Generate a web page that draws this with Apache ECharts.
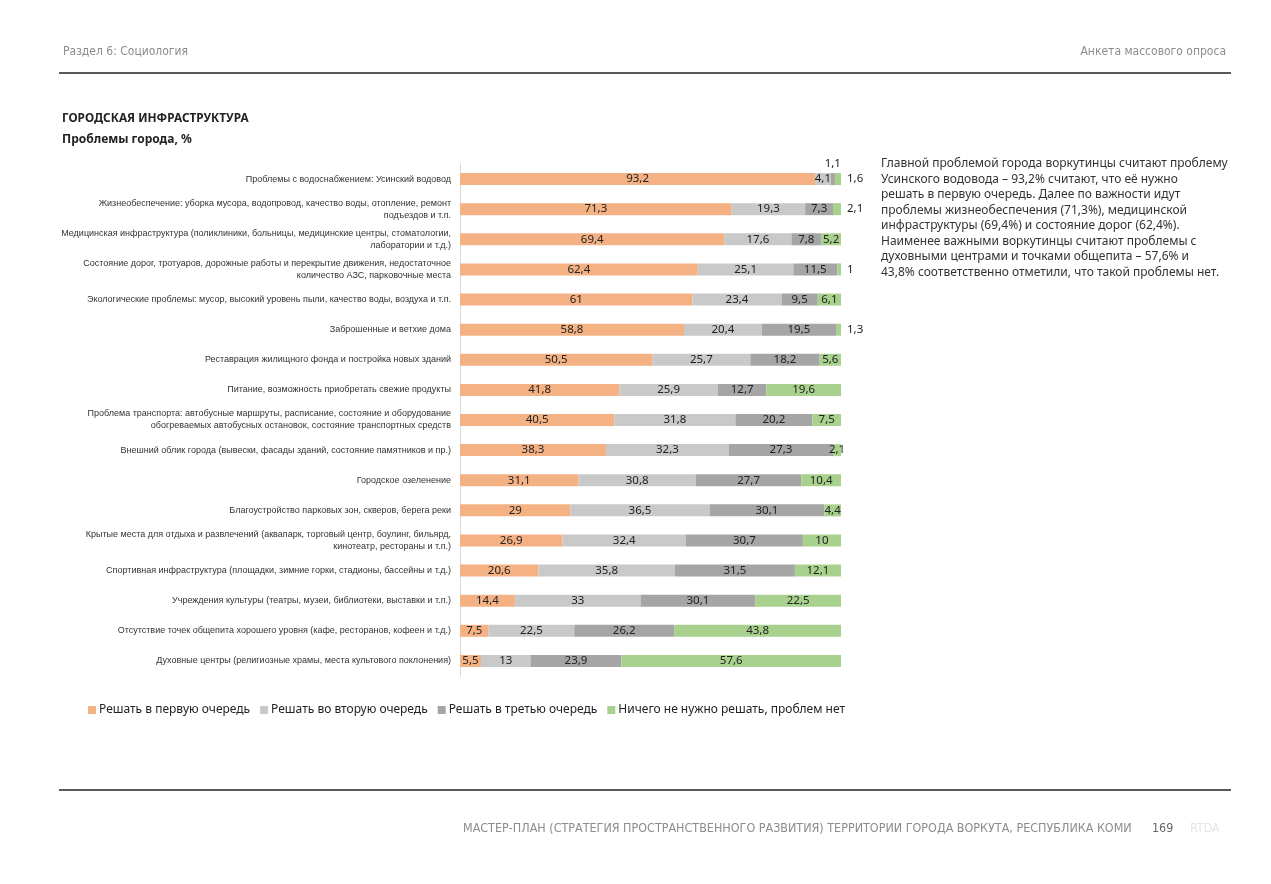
<!DOCTYPE html>
<html><head><meta charset="utf-8">
<script src="https://cdn.jsdelivr.net/npm/echarts@6/dist/echarts.min.js"></script>
<style>html,body{margin:0;padding:0;background:#fff}#c{width:1271px;height:884px}</style>
</head><body><div id="c"></div>
<script>
const categories = [
  "Проблемы с водоснабжением: Усинский водовод",
  "Жизнеобеспечение: уборка мусора, водопровод, качество воды, отопление, ремонт\nподъездов и т.п.",
  "Медицинская инфраструктура (поликлиники, больницы, медицинские центры, стоматологии,\nлаборатории и т.д.)",
  "Состояние дорог, тротуаров, дорожные работы и перекрытие движения, недостаточное\nколичество АЗС, парковочные места",
  "Экологические проблемы: мусор, высокий уровень пыли, качество воды, воздуха и т.п.",
  "Заброшенные и ветхие дома",
  "Реставрация жилищного фонда и постройка новых зданий",
  "Питание, возможность приобретать свежие продукты",
  "Проблема транспорта: автобусные маршруты, расписание, состояние и оборудование\nобогреваемых автобусных остановок, состояние транспортных средств",
  "Внешний облик города (вывески, фасады зданий, состояние памятников и пр.)",
  "Городское озеленение",
  "Благоустройство парковых зон, скверов, берега реки",
  "Крытые места для отдыха и развлечений (аквапарк, торговый центр, боулинг, бильярд,\nкинотеатр, рестораны и т.п.)",
  "Спортивная инфраструктура (площадки, зимние горки, стадионы, бассейны и т.д.)",
  "Учреждения культуры (театры, музеи, библиотеки, выставки и т.п.)",
  "Отсутствие точек общепита хорошего уровня (кафе, ресторанов, кофеен и т.д.)",
  "Духовные центры (религиозные храмы, места культового поклонения)"
];
const seriesNames = ["Решать в первую очередь","Решать во вторую очередь","Решать в третью очередь","Ничего не нужно решать, проблем нет"];
const first  = [93.2,71.3,69.4,62.4,61,58.8,50.5,41.8,40.5,38.3,31.1,29,26.9,20.6,14.4,7.5,5.5];
const second = [4.1,19.3,17.6,25.1,23.4,20.4,25.7,25.9,31.8,32.3,30.8,36.5,32.4,35.8,33,22.5,13];
const third  = [1.1,7.3,7.8,11.5,9.5,19.5,18.2,12.7,20.2,27.3,27.7,30.1,30.7,31.5,30.1,26.2,23.9];
const none   = [1.6,2.1,5.2,1,6.1,1.3,5.6,19.6,7.5,2.1,10.4,4.4,10,12.1,22.5,43.8,57.6];

const colors = ['#F4B183','#C9C9C9','#A5A5A5','#A9D18E'];
// label placement for tiny segments: [seriesIndex, rowIndex, position]
const labelOverrides = [[2,0,'top'],[3,0,'right'],[3,1,'right'],[3,3,'right'],[3,5,'right']];

function buildData(vals, si){
  return vals.map((v,i)=>{
    const o = labelOverrides.find(a=>a[0]===si && a[1]===i);
    if(!o) return v;
    return {value:v, label:{position:o[2], distance: o[2]==='right'?6:3}};
  });
}
const allVals=[first,second,third,none];
const chart = echarts.init(document.getElementById('c'));
const lblFont = {fontFamily:'Noto Sans', fontSize:11.5, color:'#222'};
chart.setOption({
  animation:false,
  color: colors,
  grid:{left:460, right:430, top:164, bottom:208, containLabel:false},
  xAxis:{type:'value', min:0, max:100, show:false},
  yAxis:{type:'category', data:categories, inverse:true,
    axisLine:{show:true, lineStyle:{color:'#D9D9D9', width:1}},
    axisTick:{show:false},
    axisLabel:{interval:0, margin:9, fontFamily:'Liberation Sans', fontSize:9, lineHeight:12, color:'#333', align:'right'}
  },
  legend:{left:83, top:699, itemWidth:8, itemHeight:8, itemGap:10, icon:'rect',
    textStyle:{fontFamily:'Noto Sans', fontSize:12, color:'#222', padding:[0,0,0,-2]},
    data:seriesNames},
  series: seriesNames.map((n,si)=>({
    name:n, type:'bar', stack:'s', barWidth:12,
    data: buildData(allVals[si], si),
    itemStyle:{color:colors[si]},
    label:{show:true, position:'inside', ...lblFont,
      formatter:p=>String(p.value).replace('.',',')}
  })),
  graphic:[
    {type:'text', left:63, top:46, style:{text:'Раздел 6: Социология', fontFamily:'DejaVu Sans Condensed', fontSize:12, fill:'#8c8c8c'}},
    {type:'text', right:45, top:46, style:{text:'Анкета массового опроса', fontFamily:'DejaVu Sans Condensed', fontSize:12, fill:'#8c8c8c'}},
    {type:'line', shape:{x1:59,y1:73,x2:1231,y2:73}, style:{stroke:'#222', lineWidth:1.5}},
    {type:'text', left:62, top:113, style:{text:'ГОРОДСКАЯ ИНФРАСТРУКТУРА', fontFamily:'Noto Sans', fontWeight:'bold', fontSize:11.8, fill:'#222'}},
    {type:'text', left:62, top:134, style:{text:'Проблемы города, %', fontFamily:'Noto Sans', fontWeight:'bold', fontSize:12, fill:'#222'}},
    {type:'text', left:881, top:156, style:{text:
      'Главной проблемой города воркутинцы считают проблему\nУсинского водовода – 93,2% считают, что её нужно\nрешать в первую очередь. Далее по важности идут\nпроблемы жизнеобеспечения (71,3%), медицинской\nинфраструктуры (69,4%) и состояние дорог (62,4%).\nНаименее важными воркутинцы считают проблемы с\nдуховными центрами и точками общепита – 57,6% и\n43,8% соответственно отметили, что такой проблемы нет.',
      fontFamily:'Noto Sans', fontSize:12, lineHeight:15.5, fill:'#333'}},
    {type:'line', shape:{x1:59,y1:790,x2:1231,y2:790}, style:{stroke:'#222', lineWidth:1.5}},
    {type:'text', left:463, top:823, style:{text:'МАСТЕР-ПЛАН (СТРАТЕГИЯ ПРОСТРАНСТВЕННОГО РАЗВИТИЯ) ТЕРРИТОРИИ ГОРОДА ВОРКУТА, РЕСПУБЛИКА КОМИ', fontFamily:'DejaVu Sans Condensed', fontSize:12.45, fill:'#8c8c8c'}},
    {type:'text', left:1152, top:823, style:{text:'169', fontFamily:'DejaVu Sans Condensed', fontSize:12.45, fill:'#666'}},
    {type:'text', left:1190, top:823, style:{text:'RTDA', fontFamily:'DejaVu Sans Condensed', fontSize:12.45, fill:'#e6e6e6'}}
  ]
});
</script></body></html>
